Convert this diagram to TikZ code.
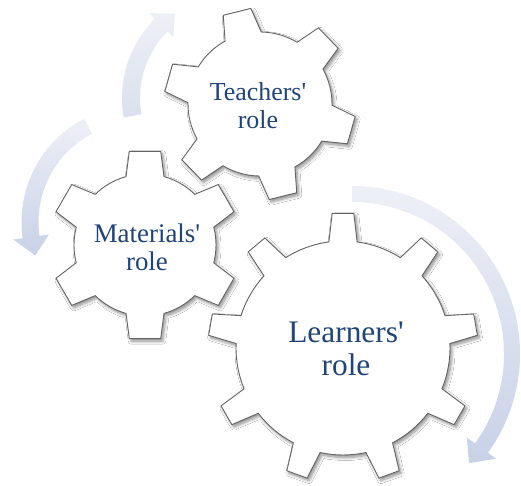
\documentclass[tikz,border=0pt]{standalone}
\usepackage{fontspec}
\setmainfont{Liberation Serif}[Ligatures=TeXOff]
\usetikzlibrary{shadows,shadows.blur,calc}
\definecolor{txtblue}{RGB}{31,68,122}
\definecolor{gearline}{RGB}{100,100,100}
\definecolor{arrlight}{RGB}{238,240,247}
\definecolor{arrmid}{RGB}{218,224,238}
\definecolor{arrdark}{RGB}{200,209,231}
\tikzset{
  gearbody/.style={fill=white, draw=gearline, line width=0.9bp, line join=miter,
    blur shadow={shadow xshift=2bp, shadow yshift=-2.5bp, shadow blur radius=3bp,
      shadow blur steps=8, shadow opacity=45}},
  rolelabel/.style={text=txtblue, align=center, inner sep=0pt},
}
% #1 centre, #2 teeth, #3 phase, #4 tip radius, #5 root radius, #6 tip half-angle, #7 root half-angle
\newcommand\drawgear[7]{%
  \path[gearbody, shift={#1}] ({#3-#7}:#5)
  \foreach \k in {1,...,#2}{
    -- ({#3+(\k-1)*360/#2-#6}:#4) -- ({#3+(\k-1)*360/#2+#6}:#4)
    -- ({#3+(\k-1)*360/#2+#7}:#5)
    arc[start angle={#3+(\k-1)*360/#2+#7}, end angle={#3+\k*360/#2-#7}, radius=#5]
  } -- cycle;
}
\begin{document}
\begin{tikzpicture}[x=1bp, y=1bp]
\useasboundingbox (0,0) rectangle (521,486);
\fill[white] (0,0) rectangle (521,486);

% curved arrows
\shade[top color=arrlight, bottom color=arrmid, shift={(234,388)}]
  (190:112) arc[start angle=190, end angle=135, radius=112]
  -- (135:120) -- (125:103) -- (135:86) -- (135:94)
  arc[start angle=135, end angle=190, radius=94] -- cycle;
\shade[top color=arrlight, bottom color=arrdark, shift={(138,264)}]
  (117.5:116.5) arc[start angle=117.5, end angle=188, radius=116.5]
  -- (188:126) -- (198:108) -- (188:90) -- (188:99.5)
  arc[start angle=188, end angle=117.5, radius=99.5] -- cycle;
\shade[top color=arrlight, bottom color=arrdark, shift={(352,132)}]
  (90:168) arc[start angle=90, end angle=-36, radius=168]
  -- (-36:178) -- (-43:160) -- (-36:142) -- (-36:152)
  arc[start angle=-36, end angle=90, radius=152] -- cycle;

% gears
\drawgear{(343,138)}{9}{10}{135}{107}{4.6}{7.6}
\drawgear{(145,241)}{6}{30}{95}{71}{9.5}{15.5}
\drawgear{(260,382)}{6}{44}{96}{72}{8.5}{15}

% labels
\node[rolelabel, font=\fontsize{26}{27.7}\selectfont] (teach) at (258,380.5) {Teachers'\\role};
\node[rolelabel, font=\fontsize{27}{27.5}\selectfont] (mat) at (147,238.7) {Materials'\\role};
\node[rolelabel, font=\fontsize{31.5}{33}\selectfont] (learn) at (346,137.3) {Learners'\\role};
\end{tikzpicture}
\end{document}
